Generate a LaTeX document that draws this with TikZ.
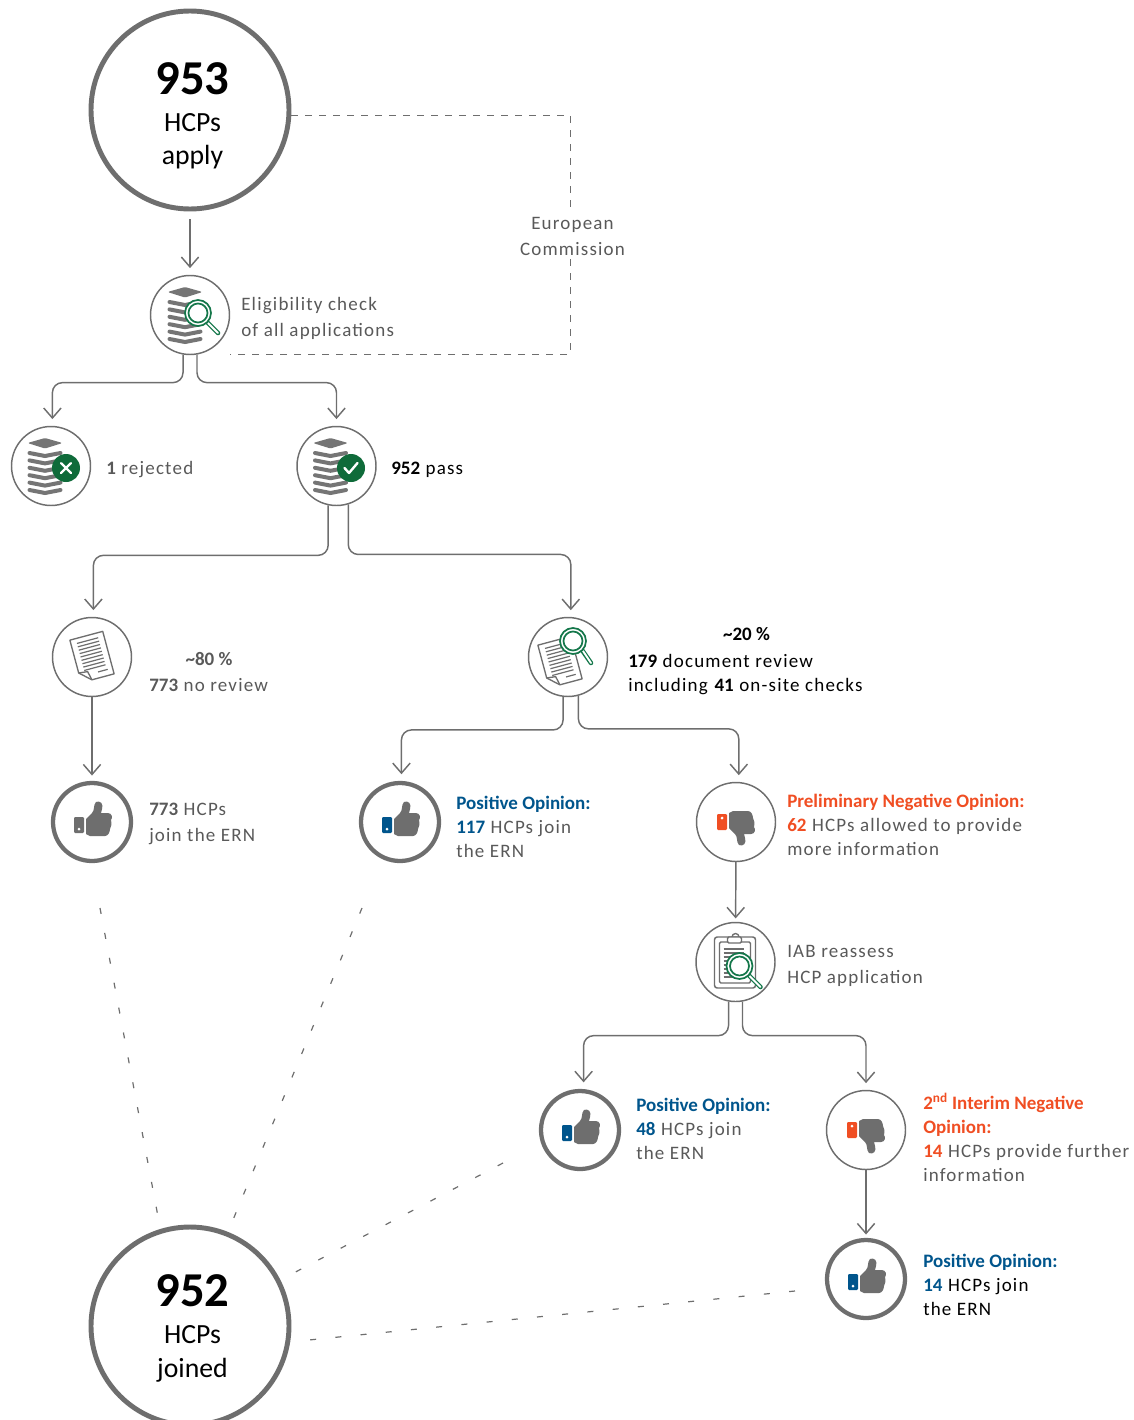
\documentclass[tikz,border=0pt]{standalone}
\usepackage{fontspec}
\setmainfont{Carlito}[LetterSpace=6.3, BoldFeatures={LetterSpace=0}]
\newfontfamily\capfont{Carlito}
\usetikzlibrary{arrows.meta}
\definecolor{ringgrey}{HTML}{6E6E6E}
\definecolor{textgrey}{HTML}{595959}
\definecolor{posblue}{HTML}{00558C}
\definecolor{negorange}{HTML}{F04E23}
\definecolor{lensgreen}{HTML}{14774A}
\definecolor{badgegreen}{HTML}{0F6B3A}
\tikzset{
	ring/.style={circle, draw=ringgrey, line width=1.1pt, fill=white, minimum size=59.25pt, inner sep=0pt},
	thumbring/.style={circle, draw=ringgrey, line width=3.2pt, fill=white, minimum size=58.5pt, inner sep=0pt},
	bigring/.style={circle, draw=ringgrey, line width=3.7pt, fill=white, minimum size=148.5pt, inner sep=0pt},
	flow/.style={draw=ringgrey, line width=1.1pt, rounded corners=7.5pt, shorten >=5pt, -{Straight Barb[length=7.5pt, width=13pt, line width=1.1pt]}},
	dashline/.style={draw=ringgrey, line width=.7pt, dash pattern=on 5pt off 5.5pt},
	joinline/.style={draw=ringgrey, line width=.9pt, dash pattern=on 4.5pt off 14.5pt},
	lab/.style={anchor=west, inner sep=0pt, align=left, text=textgrey, font=\fontsize{14.25}{19.5}\selectfont},
	labtight/.style={lab, font=\fontsize{14.25}{18}\selectfont},
	numtxt/.style={inner sep=0pt, font=\capfont\fontsize{36.5}{40}\selectfont\bfseries},
	captxt/.style={inner sep=0pt, align=center, font=\capfont\fontsize{20.8}{25}\selectfont},
	pics/stackpic/.style={code={
		\fill[ringgrey!95!white, rounded corners=1pt] (-17.5,-23) -- (0,-28) -- (17.5,-23) -- (0,-17.5) -- cycle;
		\foreach \ly in {-13,-5.6,1.8,9.2,16.6,24} {
			\draw[ringgrey!95!white, line width=3pt, line cap=round] (-15.5,\ly) -- (0,\ly+3) -- (15.5,\ly);
		}
	}},
	pics/lenspic/.style={code={
		\draw[lensgreen, line width=3.4pt, line cap=round] (9,9) -- (#1);
		\draw[white, line width=1.4pt, line cap=round] (10,10) -- (#1);
		\draw[lensgreen, line width=1.3pt, fill=white] (0,0) circle (13);
		\draw[lensgreen, line width=1.3pt, fill=white] (0,0) circle (9.5);
	}},
	pics/docpic/.style={code={
		\begin{scope}[rotate=15]
			\draw[ringgrey, line width=1pt, fill=white, line join=round] (-17,-22) -- (17,-22) -- (17,22) -- (-6,22) -- (-17,12) -- cycle;
			\draw[ringgrey, line width=1pt, line join=round] (-6,22) -- (-8,13) -- (-17,12);
			\foreach \ly in {-17,-13.5,...,11} {
				\draw[ringgrey, line width=.9pt] (-11,\ly) -- (11,\ly);
			}
			\draw[ringgrey, line width=.9pt] (2,16) -- (12,16);
		\end{scope}
	}},
	pics/clippic/.style={code={
		\draw[ringgrey, line width=1.1pt, rounded corners=2pt] (-21,-25) rectangle (20,26);
		\draw[ringgrey, line width=1.1pt, rounded corners=1pt] (-16,-20) rectangle (15,21);
		\draw[ringgrey, line width=1pt] (0,-25) circle (3.5);
		\draw[ringgrey, line width=1.1pt, fill=white, rounded corners=1pt] (-8,-25) rectangle (6,-19);
		\foreach \ly in {-13,-9,...,15} {
			\draw[ringgrey, line width=.9pt] (-12,\ly) -- (8,\ly);
		}
	}},
	pics/thumbpic/.style={code={
		\fill[#1, rounded corners=.8pt] (-18,-5) rectangle (-8,11);
		\fill[white] (-13,7) circle (1.5);
		\fill[ringgrey] (-6,-3) -- (0,-9) .. controls (3,-12) and (1,-17) .. (4,-20)
			.. controls (8,-22) and (12,-18) .. (10,-13) -- (9,-9) -- (16,-9)
			.. controls (20,-9) and (21,-4) .. (19,-2) .. controls (20,2) and (19,5) .. (18,7)
			.. controls (18,10) and (16,14) .. (13,14) -- (-2,14) -- (-6,12) -- cycle;
	}},
}
\begin{document}
\begin{tikzpicture}[x=.75pt, y=-.75pt]
	\clip (0,0) rectangle (1134,1420);

	\node[bigring] (apply) at (190,110) {};
	\node[bigring] (joined) at (190,1326) {};
	\node[numtxt] (applynum) at (192.5,78.5) {953};
	\node[captxt] (applytxt) at (192.5,141) {HCPs\\apply};
	\node[numtxt] (joinednum) at (192.5,1290.5) {952};
	\node[captxt] (joinedtxt) at (192.5,1354) {HCPs\\joined};

	\node[ring] (elig) at (190,315) {};
	\node[ring] (reject) at (51,466) {};
	\node[ring] (pass) at (336.5,466) {};
	\node[ring] (noreview) at (92,657) {};
	\node[ring] (docreview) at (568,657) {};
	\node[thumbring] (joina) at (92,822) {};
	\node[thumbring] (joinb) at (400,822) {};
	\node[ring] (prelim) at (736,822) {};
	\node[ring] (iab) at (735.5,962) {};
	\node[thumbring] (joinc) at (580,1130) {};
	\node[ring] (interim) at (866,1130) {};
	\node[thumbring] (joind) at (866,1279) {};

	% icons
	\pic at ([shift={(-5,0)}]elig.center) {stackpic};
	\pic at ([shift={(8,-2)}]elig.center) {lenspic={20,20}};
	\pic at ([shift={(-6,0)}]reject.center) {stackpic};
	\fill[badgegreen] ([shift={(15,2)}]reject.center) circle (14);
	\draw[white, line width=1.6pt, line cap=round] ([shift={(10,-3)}]reject.center) -- ([shift={(20,7)}]reject.center);
	\draw[white, line width=1.6pt, line cap=round] ([shift={(20,-3)}]reject.center) -- ([shift={(10,7)}]reject.center);
	\pic at ([shift={(-6,0)}]pass.center) {stackpic};
	\fill[badgegreen] ([shift={(14.5,2)}]pass.center) circle (14);
	\draw[white, line width=1.8pt, line cap=round, line join=round] ([shift={(8,2)}]pass.center) -- ([shift={(12.5,7)}]pass.center) -- ([shift={(21,-3)}]pass.center);
	\pic at (noreview.center) {docpic};
	\pic at ([shift={(-8,5)}]docreview.center) {docpic};
	\pic at ([shift={(5,-16)}]docreview.center) {lenspic={18,22}};
	\pic at (joina.center) {thumbpic=ringgrey};
	\pic at (joinb.center) {thumbpic=posblue};
	\pic[yscale=-1] at ([shift={(-1,3)}]prelim.center) {thumbpic=negorange};
	\pic at (iab.center) {clippic};
	\pic at ([shift={(4,4)}]iab.center) {lenspic={21,21}};
	\pic at (joinc.center) {thumbpic=posblue};
	\pic[yscale=-1] at ([shift={(-1,3)}]interim.center) {thumbpic=negorange};
	\pic at (joind.center) {thumbpic=posblue};

	% labels
	\node[lab] (eligtxt) at (241,318) {Eligibility check\\of all applications};
	\node[lab, anchor=center, align=center] (ectxt) at (572.5,236) {European\\Commission};
	\node[lab] (rejecttxt) at (106,470) {\textbf{1} rejected};
	\node[lab, text=black] (passtxt) at (391,470) {\textbf{952} pass};
	\node[lab, anchor=center] (pcteighty) at (209,659) {\textbf{\char`\~80 \%}};
	\node[lab] (noreviewtxt) at (149,685.5) {\textbf{773} no review};
	\node[lab, anchor=center, text=black] (pcttwenty) at (746.5,634.5) {\textbf{\char`\~20 \%}};
	\node[labtight, text=black] (docreviewtxt) at (628,675) {\textbf{179} document review\\including \textbf{41} on-site checks};
	\node[lab] (joinatxt) at (149,824) {\textbf{773} HCPs\\join the ERN};
	\node[labtight] (joinbtxt) at (456,827) {\textcolor{posblue}{\textbf{Positive Opinion:}}\\\textcolor{posblue}{\textbf{117}} HCPs join\\the ERN};
	\node[labtight] (prelimtxt) at (787,825) {\textcolor{negorange}{\textbf{Preliminary Negative Opinion:}}\\\textcolor{negorange}{\textbf{62}} HCPs allowed to provide\\more information};
	\node[lab] (iabtxt) at (787,966) {IAB reassess\\HCP application};
	\node[labtight] (joinctxt) at (636,1129) {\textcolor{posblue}{\textbf{Positive Opinion:}}\\\textcolor{posblue}{\textbf{48}} HCPs join\\the ERN};
	\node[labtight] (interimtxt) at (923,1137) {\textcolor{negorange}{\textbf{2\textsuperscript{nd} Interim Negative}}\\\textcolor{negorange}{\textbf{Opinion:}}\\\textcolor{negorange}{\textbf{14}} HCPs provide further\\information};
	\node[labtight, text=black] (joindtxt) at (923,1285) {\textcolor{posblue}{\textbf{Positive Opinion:}}\\\textcolor{posblue}{\textbf{14}} HCPs join\\the ERN};

	% arrows
	\draw[flow, shorten <=6pt] (apply) -- (elig);
	\draw[flow] (elig.-100) -- ++(0,28) -| (reject.88);
	\draw[flow] (elig.-80) -- ++(0,28) -| (pass.north);
	\draw[flow] (pass.-102) -- ++(0,50) -| (noreview.88);
	\draw[flow] (pass.-73) -- ++(0,50) -| (docreview.86);
	\draw[flow, shorten >=4pt] (noreview) -- (joina);
	\draw[flow] (docreview.-97) -- ++(0,33) -| (joinb.88);
	\draw[flow] (docreview.-75) -- ++(0,33) -| (prelim.86);
	\draw[flow, shorten >=2.5pt] (prelim) -- (iab);
	\draw[flow] (iab.-100) -- ++(0,34) -| (joinc.85);
	\draw[flow] (iab.-80) -- ++(0,34) -| (interim.north);
	\draw[flow, shorten >=2.5pt] (interim) -- (joind);

	% dashed lines
	\coordinate (eligend) at (230,354);
	\draw[dashline] (apply.-3) -| ([xshift=-1.5pt,yshift=4pt]ectxt.north);
	\draw[dashline] ([xshift=-1.5pt,yshift=-3pt]ectxt.south) |- (eligend);
	\coordinate (joinastart) at (100,908);
	\coordinate (joinbstart) at (362,908);
	\coordinate (joincstart) at (503,1163);
	\coordinate (joindstart) at (795,1291);
	\draw[joinline, shorten >=11.8pt] (joinastart) -- (joined.107);
	\draw[joinline, shorten >=10.6pt] (joinbstart) -- (joined.68);
	\draw[joinline, shorten >=12pt] (joincstart) -- (joined.27);
	\draw[joinline, shorten >=12.8pt] (joindstart) -- (joined.-9);
\end{tikzpicture}
\end{document}
